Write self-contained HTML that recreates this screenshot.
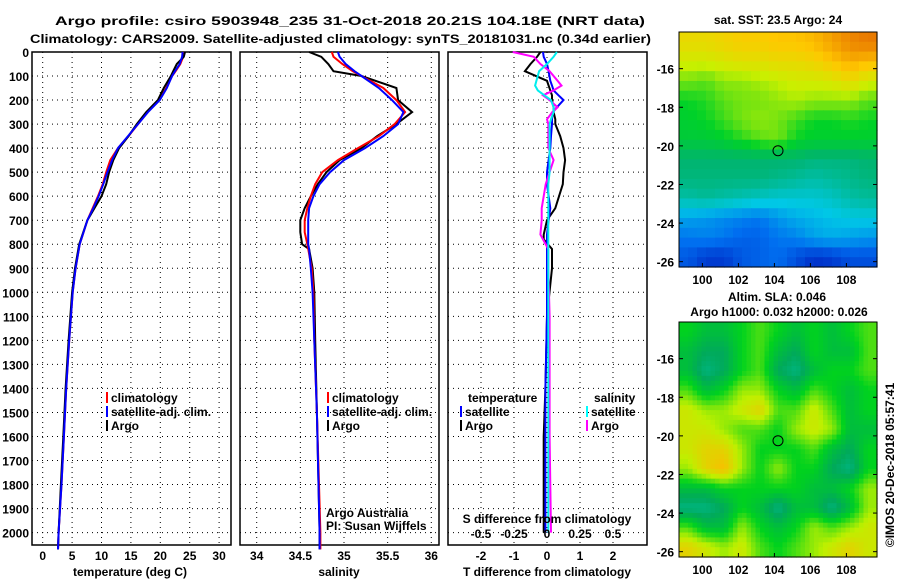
<!DOCTYPE html>
<html><head><meta charset="utf-8"><style>
body{margin:0;background:#fff;width:900px;height:580px;overflow:hidden;font-family:"Liberation Sans",sans-serif}
svg text{font-family:"Liberation Sans",sans-serif;font-weight:bold;font-size:12px}
</style></head><body>
<svg id="c" width="900" height="580"></svg>
<script>
// ---- data ----
const depthsT=[0,20,50,80,100,150,200,250,300,350,400,450,500,550,600,650,700,800,900,1000,1200,1400,1600,1800,2000,2070];
const tempClim=[24,23.9,23.4,22.6,22.0,21.0,19.8,17.8,16.2,14.6,12.8,11.5,10.8,10.2,9.4,8.5,7.6,6.3,5.6,5.1,4.5,4.0,3.6,3.2,2.7,2.6];
const tempSat=[23.8,23.7,23.3,22.5,22.0,21.1,19.9,17.9,16.2,14.5,12.8,11.8,11.0,10.3,9.5,8.6,7.6,6.3,5.6,5.1,4.5,4.0,3.6,3.2,2.7,2.6];
const tempArgo=[24.2,24.0,22.8,22.2,21.8,20.6,19.6,17.6,16.0,14.6,13.0,12.0,11.3,10.8,10.0,8.8,7.6,6.2,5.5,5.0,4.4,3.9,3.5,3.1,2.7,2.6];
const depthsS=[0,20,50,80,100,150,200,250,300,350,400,450,500,550,600,650,700,750,800,820,900,1000,1200,1500,2000,2070];
const salClim=[34.86,34.88,34.98,35.1,35.2,35.45,35.6,35.7,35.58,35.4,35.16,34.93,34.75,34.67,34.62,34.58,34.55,34.55,34.58,34.59,34.63,34.65,34.66,34.69,34.73,34.73];
const salSat=[34.93,34.95,35.02,35.12,35.2,35.4,35.55,35.68,35.62,35.45,35.24,35.0,34.84,34.72,34.65,34.6,34.59,34.59,34.59,34.6,34.62,34.64,34.66,34.69,34.72,34.72];
const salArgo=[34.6,34.74,34.82,34.88,35.2,35.6,35.62,35.78,35.6,35.38,35.2,34.95,34.8,34.7,34.62,34.55,34.5,34.5,34.52,34.6,34.64,34.66,34.67,34.69,34.72,34.72];
const depthsD=[0,20,50,80,120,140,160,180,200,230,250,280,300,350,400,450,500,550,650,700,760,780,820,900,1100,1400,1600,2000];
const tDiffSat=[-0.12,-0.1,0.0,0.05,0.1,0.15,0.2,0.35,0.5,0.3,0.18,0.15,0.15,0.12,0.1,0.05,0.0,0.0,0.1,0.05,0.0,0.0,0.0,0.0,0.0,-0.05,-0.05,-0.05];
const tDiffArgo=[-0.2,-0.3,-0.5,-0.67,0.0,0.05,0.1,0.15,0.15,0.2,0.2,0.25,0.25,0.4,0.5,0.55,0.5,0.48,0.25,0.0,-0.1,-0.1,0.15,0.15,0.0,-0.05,-0.1,-0.1];
const sDiffSat=[0.075,0.05,0.0,-0.06,-0.08,-0.09,-0.07,-0.02,0.03,0.05,0.05,0.03,0.02,0.02,0.02,0.02,0.02,0.01,0.01,0.01,0.01,0.01,0.01,0.01,0.01,0.01,0.01,0.01];
const sDiffArgo=[-0.26,-0.1,-0.05,0.02,0.08,0.11,0.05,-0.03,0.02,0.08,0.04,0.0,0.01,0.01,0.01,0.05,0.02,-0.01,-0.04,-0.04,-0.05,-0.03,0.01,0.01,0.02,0.02,0.02,0.03];
const depthTicks=[0,100,200,300,400,500,600,700,800,900,1000,1100,1200,1300,1400,1500,1600,1700,1800,1900,2000];
const tempTicks=[0,5,10,15,20,25,30];
const salTicks=[34,34.5,35,35.5,36];
const tdTicks=[-2,-1,0,1,2];
const sdTicks=[-0.5,-0.25,0,0.25,0.5];
const latTicks=[-16,-18,-20,-22,-24,-26];
const lonTicks=[100,102,104,106,108];
// SST grid rows north->south (lat -14.1 .. -26.3), cols west->east
const sstGrid=[
[25.6,25.6,25.7,25.8,25.8,25.9,25.9,26.0,26.2,26.4,26.5],
[25.3,25.3,25.4,25.5,25.5,25.6,25.6,25.7,25.9,26.1,26.0],
[24.9,24.8,25.0,25.0,25.1,25.2,25.3,25.3,25.4,25.6,25.3],
[24.5,24.6,24.8,24.9,24.9,25.0,25.1,25.0,25.0,25.0,24.8],
[24.4,24.5,24.7,24.9,25.0,24.9,24.7,24.5,24.5,24.6,24.5],
[24.3,24.3,24.4,24.6,24.8,24.9,24.5,24.4,24.4,24.4,24.4],
[23.8,23.8,23.8,23.8,23.8,23.8,23.8,23.7,23.7,23.7,23.8],
[23.7,23.7,23.7,23.7,23.7,23.6,23.5,23.4,23.5,23.6,23.7],
[23.4,23.5,23.4,23.3,23.2,23.1,23.1,23.1,23.2,23.4,23.5],
[22.6,22.5,22.4,22.3,22.2,22.5,22.7,22.8,22.9,23.0,23.0],
[22.2,22.3,22.2,22.0,22.0,22.2,22.3,22.6,22.7,22.6,22.5],
[21.9,21.6,21.6,21.9,22.0,22.1,21.8,21.5,21.6,21.8,21.8]];
const slaGrid=[
[0.05,0.04,0.04,0.05,0.06,0.05,0.04,0.05,0.04,0.05,0.06],
[0.04,0.03,0.03,0.05,0.06,0.04,0.03,0.05,0.04,0.04,0.06],
[0.04,0.02,0.03,0.05,0.06,0.03,0.02,0.04,0.05,0.05,0.06],
[0.06,0.04,0.05,0.07,0.07,0.05,0.04,0.06,0.05,0.04,0.05],
[0.08,0.07,0.07,0.08,0.09,0.06,0.06,0.08,0.06,0.04,0.05],
[0.08,0.08,0.07,0.06,0.06,0.05,0.07,0.08,0.07,0.04,0.04],
[0.08,0.09,0.09,0.07,0.05,0.05,0.05,0.06,0.04,0.03,0.05],
[0.07,0.09,0.10,0.07,0.05,0.07,0.05,0.05,0.03,0.02,0.05],
[0.04,0.04,0.05,0.05,0.05,0.05,0.05,0.04,0.04,0.05,0.07],
[0.02,0.02,0.03,0.05,0.04,0.02,0.04,0.04,0.02,0.04,0.07],
[0.06,0.04,0.04,0.07,0.05,0.04,0.05,0.07,0.06,0.07,0.08],
[0.09,0.08,0.07,0.08,0.06,0.05,0.06,0.07,0.08,0.09,0.08]];
const argoLon=104.2, argoLat=-20.25;
// ---- helpers ----
const NS='http://www.w3.org/2000/svg';
const svg=document.getElementById('c');
function mk(tag,at,parent){const e=document.createElementNS(NS,tag);for(const k in at)e.setAttribute(k,at[k]);(parent||svg).appendChild(e);return e;}
function txt(x,y,s,anchor,size,name){const t=mk('text',{x:x,y:y,'text-anchor':anchor||'start','font-size':size||13});t.textContent=s;

return t;}
const Y0=52, PPD=0.2403;
const yD=d=>Y0+d*PPD;
const panels=[{x0:32,x1:231},{x0:240,x1:439},{x0:448,x1:647}];
const PT=545;
const xT=v=>42.7+v*5.88;
const xS=v=>256.7+(v-34)*87.3;
const xTD=v=>547+v*33;
const xSD=v=>547+v*132;
function frame(p,name){
  depthTicks.forEach(d=>{const l=mk('line',{x1:p.x0,x2:p.x1,y1:yD(d),y2:yD(d),stroke:'#000','stroke-dasharray':'1,4'});
  
  });
  const r=mk('rect',{x:p.x0,y:Y0,width:p.x1-p.x0,height:PT-Y0,fill:'none',stroke:'#000','stroke-width':1.5});
  
  
}
function vgrid(p,ticks,fx){ticks.forEach(v=>{const l=mk('line',{x1:fx(v),x2:fx(v),y1:Y0,y2:PT,stroke:'#000','stroke-dasharray':'1,4'});

});}
function line(ds,vs,fx,color,name,w){
  const pts=ds.map((d,i)=>fx(vs[i]).toFixed(1)+','+yD(d).toFixed(1)).join(' ');
  const l=mk('polyline',{points:pts,fill:'none',stroke:color,'stroke-width':w||2});
  
  
}
// titles
const t1=txt(55,25,'Argo profile: csiro 5903948_235 31-Oct-2018 20.21S 104.18E (NRT data)','start',15,'title-line-1');
t1.setAttribute('textLength','590');
t1.setAttribute('lengthAdjust','spacingAndGlyphs');
const t2=txt(30,43,'Climatology: CARS2009. Satellite-adjusted climatology: synTS_20181031.nc (0.34d earlier)','start',15,'title-line-2');
t2.setAttribute('textLength','621');
t2.setAttribute('lengthAdjust','spacingAndGlyphs');
// depth labels
depthTicks.forEach(d=>txt(29,yD(d)+5,String(d),'end',13,'depth-tick-label'));
// panel 1
frame(panels[0],'temperature-panel');vgrid(panels[0],tempTicks,xT);
tempTicks.forEach(v=>txt(xT(v),560,String(v),'middle',13,'temperature-tick'));
txt(130,576,'temperature (deg C)','middle',13,'temperature-axis-title');
line(depthsT,tempClim,xT,'#f00','temperature-climatology-line');
line(depthsT,tempArgo,xT,'#000','temperature-argo-line');
line(depthsT,tempSat,xT,'#00f','temperature-satellite-line');
// panel 2
frame(panels[1],'salinity-panel');vgrid(panels[1],salTicks,xS);
salTicks.forEach(v=>txt(xS(v),560,String(v),'middle',13,'salinity-tick'));
txt(339,576,'salinity','middle',13,'salinity-axis-title');
line(depthsS,salArgo,xS,'#000','salinity-argo-line');
line(depthsS,salClim,xS,'#f00','salinity-climatology-line');
line(depthsS,salSat,xS,'#00f','salinity-satellite-line');
// panel 3
frame(panels[2],'difference-panel');vgrid(panels[2],tdTicks,xTD);
line(depthsD,tDiffArgo,xTD,'#000','t-diff-argo-line');
line(depthsD,tDiffSat,xTD,'#00f','t-diff-satellite-line');
line(depthsD,sDiffArgo,xSD,'#f0f','s-diff-argo-line');
line(depthsD,sDiffSat,xSD,'#0ee','s-diff-satellite-line');
tdTicks.forEach(v=>txt(xTD(v),560,String(v),'middle',13,'t-diff-tick'));
sdTicks.forEach(v=>txt(xSD(v),538,String(v),'middle',13,'s-diff-tick'));
txt(547,523,'S difference from climatology','middle',13,'s-diff-axis-title');
txt(547,576,'T difference from climatology','middle',13,'t-diff-axis-title');
// legends
function leg(x,y,c,s,name){const r=mk('rect',{x:x,y:y-10,width:2,height:11,fill:c});txt(x+5,y,s,'start',12,name);}
leg(106,402,'#f00','climatology','legend-climatology');
leg(106,416,'#00f','satellite-adj. clim.','legend-satellite-adj');
leg(106,430,'#000','Argo','legend-argo');
leg(327,402,'#f00','climatology','legend2-climatology');
leg(327,416,'#00f','satellite-adj. clim.','legend2-satellite-adj');
leg(327,430,'#000','Argo','legend2-argo');
txt(468,402,'temperature','start',13,'legend-temperature-heading');
leg(460,416,'#00f','satellite','legend-t-satellite');
leg(460,430,'#000','Argo','legend-t-argo');
txt(594,402,'salinity','start',13,'legend-salinity-heading');
leg(586,416,'#0ff','satellite','legend-s-satellite');
leg(586,430,'#f0f','Argo','legend-s-argo');
const a1=txt(326,517,'Argo Australia','start',12,'credit-argo-australia');a1.setAttribute('font-weight','normal');
const a2=txt(326,530,'PI: Susan Wijffels','start',12,'credit-pi');a2.setAttribute('font-weight','normal');
// maps
function ramp(stops,t){t=Math.max(0,Math.min(1,t));
for(let i=1;i<stops.length;i++){if(t<=stops[i][0]){const a=stops[i-1],b=stops[i],f=(t-a[0])/(b[0]-a[0]);return 'rgb('+a[1].map((c,k)=>Math.round(c+(b[1][k]-c)*f)).join(',')+')';}}
const l=stops[stops.length-1][1];return 'rgb('+l.join(',')+')';}
const jetStops=[[0,[0,0,170]],[0.2,[0,110,240]],[0.35,[0,200,230]],[0.5,[0,180,110]],[0.62,[0,210,40]],[0.75,[200,240,0]],[0.87,[255,200,0]],[1,[230,110,0]]];
const slaStops=[[0,[0,200,200]],[0.3,[0,170,90]],[0.5,[0,210,30]],[0.75,[190,240,0]],[1,[250,190,0]]];
const MX0=679,MX1=877,LON0=98.7,LON1=109.7;
const mxL=lon=>MX0+(lon-LON0)*(MX1-MX0)/(LON1-LON0);
function sample(grid,fy,fx,smooth){
  const rows=grid.length,cols=grid[0].length;
  if(!smooth)return grid[Math.min(rows-1,Math.floor(fy))][Math.min(cols-1,Math.floor(fx))];
  let y=Math.max(0,Math.min(rows-1,fy-0.5)),x=Math.max(0,Math.min(cols-1,fx-0.5));
  const y0=Math.floor(y),x0=Math.floor(x),y1=Math.min(rows-1,y0+1),x1=Math.min(cols-1,x0+1),dy=y-y0,dx=x-x0;
  return grid[y0][x0]*(1-dy)*(1-dx)+grid[y0][x1]*(1-dy)*dx+grid[y1][x0]*dy*(1-dx)+grid[y1][x1]*dy*dx;
}
function map(top,grid,colfn,name,sub,smooth){
  const H=235, latTop=-14.1, ppd=19.3;
  const myL=lat=>top+(latTop-lat)*ppd;
  const g=mk('g',{});
  const rows=grid.length,cols=grid[0].length,cw=(MX1-MX0)/(cols*sub),ch=H/(rows*sub);
  for(let i=0;i<rows*sub;i++)for(let j=0;j<cols*sub;j++){
    const v=sample(grid,(i+0.5)/sub,(j+0.5)/sub,smooth);
    const r=mk('rect',{x:MX0+j*cw,y:top+i*ch,width:cw+0.6,height:ch+0.6,fill:colfn(v)},g);
    
    
  }
  mk('rect',{x:MX0,y:top,width:MX1-MX0,height:H,fill:'none',stroke:'#000','stroke-width':1},g);
  latTicks.forEach(l=>{txt(674,myL(l)+5,String(l),'end',13,name+'-lat-label');mk('line',{x1:MX0,x2:MX0+4,y1:myL(l),y2:myL(l),stroke:'#000'});mk('line',{x1:MX1-4,x2:MX1,y1:myL(l),y2:myL(l),stroke:'#000'});});
  lonTicks.forEach(l=>{txt(mxL(l),top+H+17,String(l),'middle',13,name+'-lon-label');mk('line',{x1:mxL(l),x2:mxL(l),y1:top+H-4,y2:top+H,stroke:'#000'});});
  const c=mk('circle',{cx:mxL(argoLon),cy:myL(argoLat),r:5,fill:'none',stroke:'#000','stroke-width':1});
  
  
}
map(32,sstGrid,v=>ramp(jetStops,(v-21)/(26.6-21)),'sst-map',2,true);
map(322,slaGrid,v=>ramp(slaStops,v/0.1),'sla-map',4,true);
txt(778,24,'sat. SST: 23.5 Argo: 24','middle',13,'sst-map-title');
txt(777,301,'Altim. SLA: 0.046','middle',13,'sla-map-title');
txt(779,316,'Argo h1000: 0.032 h2000: 0.026','middle',13,'argo-height-label');
const ts=txt(0,0,'©IMOS 20-Dec-2018 05:57:41','middle',12,'timestamp');
ts.setAttribute('font-weight','normal');
ts.setAttribute('transform','translate(894,465) rotate(-90)');
</script>
</body></html>
